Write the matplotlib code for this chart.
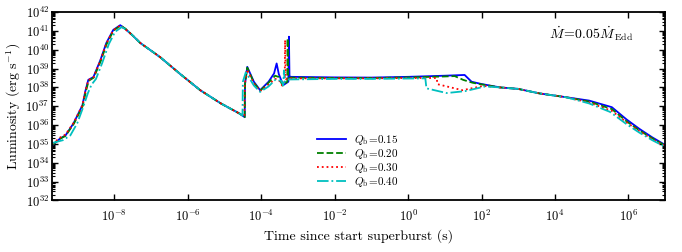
import numpy as np
import matplotlib
matplotlib.use("Agg")
import matplotlib.pyplot as plt
from matplotlib.ticker import LogLocator, FixedLocator, NullLocator, NullFormatter

plt.rcParams["font.family"] = "serif"
plt.rcParams["font.serif"] = ["cmr10", "DejaVu Serif"]
plt.rcParams["mathtext.fontset"] = "cm"
plt.rcParams["axes.formatter.use_mathtext"] = True

# all values are log10(time [s]) and log10(luminosity [erg/s])
# shared stretch: cooling after the first peak
decay_t = [-7.5, -7.29, -7.0, -6.75, -6.2, -5.66, -5.1, -4.58]
decay_L = [40.75, 40.35, 39.95, 39.6, 38.7, 37.85, 37.15, 36.6]
# shared stretch: late tail where the runs overlap
late_t = [2.5, 3.0, 3.58, 4.3]
late_L = [38.0, 37.92, 37.68, 37.48]

# Q_b = 0.15
b_t = ([-9.69, -9.47, -9.33, -9.11, -8.87, -8.79, -8.71, -8.57, -8.38, -8.22,
        -8.03, -7.84, -7.7] + decay_t +
       [-4.45, -4.44, -4.38, -4.2, -4.03, -3.8, -3.65, -3.58, -3.52, -3.40,
        -3.26, -3.245, -3.23, -3.2, -2.0, -1.0, 0.0, 1.0, 1.54, 1.73, 2.0] +
       late_t + [4.93, 5.55, 5.95, 6.3, 6.65, 7.0])
b_L = ([34.93, 35.3, 35.45, 36.1, 37.05, 37.8, 38.4, 38.55, 39.45, 40.35,
        41.05, 41.3, 41.1] + decay_L +
       [36.42, 38.2, 39.09, 38.3, 37.85, 38.3, 38.74, 39.27, 38.7, 38.12,
        38.3, 40.69, 38.6, 38.56, 38.53, 38.52, 38.56, 38.62, 38.66, 38.3, 38.18] +
       late_L + [37.3, 36.95, 36.3, 35.8, 35.35, 34.95])

# Q_b = 0.20
g_t = ([-9.69, -9.47, -9.33, -9.1, -8.86, -8.78, -8.7, -8.56, -8.37, -8.21,
        -8.02, -7.83, -7.69] + decay_t +
       [-4.45, -4.44, -4.38, -4.2, -4.03, -3.8, -3.62, -3.52, -3.42,
        -3.29, -3.28, -3.265, -3.2, -2.0, -1.0, 0.0, 1.0, 1.27, 1.5, 1.75, 2.0] +
       late_t + [4.93, 5.55, 5.95, 6.3, 6.65, 7.0])
g_L = ([34.95, 35.28, 35.43, 36.08, 37.02, 37.75, 38.35, 38.52, 39.4, 40.3,
        41.02, 41.28, 41.1] + decay_L +
       [36.42, 38.2, 39.05, 38.25, 37.82, 38.25, 38.62, 38.55, 38.1,
        38.3, 40.6, 38.5, 38.52, 38.5, 38.5, 38.53, 38.58, 38.6, 38.4, 38.25, 38.16] +
       late_L + [37.25, 36.85, 36.2, 35.72, 35.3, 34.92])

# Q_b = 0.30
r_t = ([-9.69, -9.47, -9.33, -9.11, -8.87, -8.79, -8.71, -8.57, -8.38, -8.22,
        -8.03, -7.84, -7.7] + decay_t +
       [-4.46, -4.45, -4.39, -4.2, -4.03, -3.8, -3.62, -3.52, -3.43,
        -3.36, -3.35, -3.33, -3.2, -2.0, -1.0, 0.0, 0.78, 0.8, 1.48, 2.05] +
       late_t + [4.93, 5.55, 5.95, 6.3, 6.65, 7.0])
r_L = ([35.0, 35.35, 35.5, 36.12, 37.05, 37.78, 38.38, 38.53, 39.42, 40.32,
        41.03, 41.28, 41.08] + decay_L +
       [36.45, 38.1, 38.95, 38.2, 37.8, 38.15, 38.45, 38.4, 38.1,
        38.3, 40.51, 38.45, 38.48, 38.48, 38.48, 38.5, 38.5, 38.17, 37.85, 38.08] +
       late_L + [37.2, 36.75, 36.15, 35.68, 35.25, 34.9])

# Q_b = 0.40
c_t = ([-9.69, -9.4, -9.2, -9.01, -8.84, -8.72, -8.62, -8.5, -8.33, -8.15,
        -7.98, -7.8, -7.66] + decay_t +
       [-4.51, -4.50, -4.42, -4.2, -4.03, -3.8, -3.62, -3.45, -3.4,
        -3.38, -3.36, -3.3, -2.0, -1.0, 0.0, 0.47, 0.5, 1.05, 1.55, 2.1] +
       late_t + [4.93, 5.5, 5.95, 6.3, 6.65, 7.0])
c_L = ([35.05, 35.2, 35.45, 36.1, 37.0, 37.7, 38.15, 38.45, 39.3, 40.3,
        40.95, 41.2, 41.05] + decay_L +
       [36.5, 38.3, 38.8, 38.1, 37.76, 38.05, 38.4, 38.35, 38.1,
        38.9, 38.3, 38.42, 38.45, 38.45, 38.47, 38.48, 37.95, 37.7, 37.8, 38.05] +
       late_L + [37.15, 36.7, 36.05, 35.6, 35.2, 34.85])

x_ticks = [1e-8, 1e-6, 1e-4, 1e-2, 1e0, 1e2, 1e4, 1e6]

series = [
    (b_t, b_L, "b", "-", r"$Q_{\rm b}\!=\!0.15$"),
    (g_t, g_L, "g", "--", r"$Q_{\rm b}\!=\!0.20$"),
    (r_t, r_L, "r", ":", r"$Q_{\rm b}\!=\!0.30$"),
    (c_t, c_L, "c", "-.", r"$Q_{\rm b}\!=\!0.40$"),
]

fig = plt.figure(figsize=(6.82, 2.52), dpi=100)
ax = fig.add_axes([0.0762, 0.2044, 0.899, 0.748])

for t, L, col, ls, lab in series:
    ax.plot(10.0 ** np.array(t), 10.0 ** np.array(L), color=col, ls=ls, lw=1.3, label=lab)

ax.set_xscale("log")
ax.set_yscale("log")
ax.set_xlim(2e-10, 1e7)
ax.set_ylim(1e32, 1e42)

ax.xaxis.set_major_locator(FixedLocator(x_ticks))
ax.xaxis.set_minor_locator(NullLocator())
ax.yaxis.set_major_locator(LogLocator(base=10, numticks=20))
ax.yaxis.set_minor_locator(LogLocator(base=10, subs=np.arange(2, 10), numticks=20))
ax.yaxis.set_minor_formatter(NullFormatter())
ax.tick_params(which="both", direction="in", top=True, right=True, labelsize=9)
ax.tick_params(which="major", length=4, width=1)
ax.tick_params(which="minor", length=2, width=0.8)
ax.tick_params(axis="x", pad=6)
ax.tick_params(axis="y", pad=2)
for sp in ax.spines.values():
    sp.set_linewidth(1.3)

ax.set_xlabel("Time since start superburst (s)", fontsize=10)
ax.set_ylabel(r"Luminosity (erg s$^{-1}$)", fontsize=10, labelpad=2)
ax.text(0.88, 0.885, r"$\dot M\!=\!0.05\dot M_{\rm Edd}$", transform=ax.transAxes,
        ha="center", va="center", fontsize=10)
ax.legend(loc="lower left", bbox_to_anchor=(0.42, 0.02), frameon=False, fontsize=8,
          handlelength=2.6, handletextpad=0.7, labelspacing=0.0, borderaxespad=0.3)

fig.savefig("out.png", dpi=100)
